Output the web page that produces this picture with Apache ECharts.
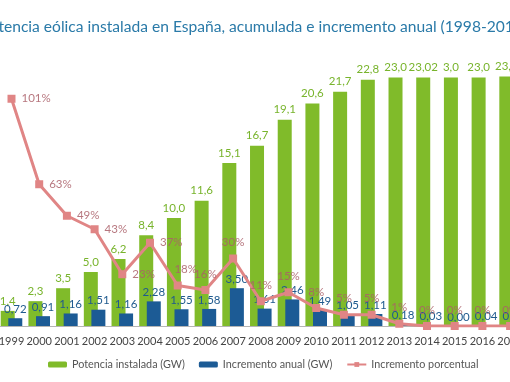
<!DOCTYPE html>
<html><head><meta charset="utf-8">
<script src="https://cdn.jsdelivr.net/npm/echarts@6/dist/echarts.min.js"></script>
<style>html,body{margin:0;padding:0;background:#fff}#c{width:510px;height:382px}</style>
</head><body><div id="c"></div>
<script>
var titleText = 'Potencia eólica instalada en España, acumulada e incremento anual (1998-2017)';
var years = ['1999','2000','2001','2002','2003','2004','2005','2006','2007','2008','2009','2010','2011','2012','2013','2014','2015','2016','2017'];
var potencia = [1.4,2.3,3.5,5.0,6.2,8.4,10.0,11.6,15.1,16.7,19.1,20.6,21.7,22.8,23.0,23.02,23.0,23.0,23.1];
var potenciaLabels = ['1,4','2,3','3,5','5,0','6,2','8,4','10,0','11,6','15,1','16,7','19,1','20,6','21,7','22,8','23,0','23,02','3,0','23,0','23,1'];
var incremento = [0.72,0.91,1.16,1.51,1.16,2.28,1.55,1.58,3.50,1.61,2.46,1.49,1.05,1.11,0.18,0.03,0.00,0.04,0.10];
var porcentaje = [101,63,49,43,23,37,18,16,30,11,15,8,5,5,1,0,0,0,0];
var seriesNames = ['Potencia instalada (GW)','Incremento anual (GW)','Incremento porcentual'];

var FONT = 'Lato';
var titleSize = 15.6;
var cv = document.createElement('canvas').getContext('2d');
cv.font = titleSize + 'px ' + FONT;
var cut = cv.measureText('Pot').width;

var chart = echarts.init(document.getElementById('c'), null, {renderer:'canvas'});
chart.setOption({
  animation: false,
  textStyle: {fontFamily: FONT},
  title: {
    text: titleText, left: -cut - 1, top: 14,
    textStyle: {fontFamily: FONT, fontSize: titleSize, fontWeight: 'normal', color: '#2a7aa8'}
  },
  legend: {
    left: 43, top: 354, width: 500, itemWidth: 19, itemHeight: 6, itemGap: 14,
    textStyle: {fontFamily: FONT, fontSize: 10.8, color: '#555'},
    data: seriesNames
  },
  grid: {left: -2.35, right: -13.95, top: 56, bottom: 56, containLabel: false, outerBoundsMode: 'none'},
  xAxis: {
    type: 'category', data: years,
    axisTick: {show: false},
    axisLine: {lineStyle: {color: '#b5b5b5', width: 1}},
    axisLabel: {color: '#444', fontSize: 11, margin: 10, interval: 0, fontFamily: FONT}
  },
  yAxis: [
    {type: 'value', min: 0, max: 25, show: false, splitLine: {show: false}},
    {type: 'value', min: 0, max: 120, show: false, splitLine: {show: false}}
  ],
  series: [
    {
      name: seriesNames[0], type: 'bar', data: potencia, barWidth: 14, barGap: '-46%',
      itemStyle: {color: '#80bb2a'},
      label: {show: true, position: 'top', distance: 4, color: '#78b42c', fontSize: 11.5, fontFamily: FONT,
        formatter: function(p){ return potenciaLabels[p.dataIndex]; }}
    },
    {
      name: seriesNames[1], type: 'bar', data: incremento, barWidth: 14,
      itemStyle: {color: '#1c5b95'},
      label: {show: true, position: 'top', distance: 3, color: '#1f5a8e', fontSize: 11.5, fontFamily: FONT,
        formatter: function(p){ return p.value.toFixed(2).replace('.', ','); }}
    },
    {
      name: seriesNames[2], type: 'line', yAxisIndex: 1, z: 5,
      data: porcentaje.map(function(v, i){
        return {value: v, label: {position: i < 6 ? 'right' : 'top', offset: i === 6 ? [8, 0] : [0, 0]}};
      }),
      symbol: 'rect', symbolSize: 8,
      lineStyle: {color: '#e08585', width: 3},
      itemStyle: {color: '#e08585'},
      label: {show: true, distance: 6, color: 'rgba(170,95,105,0.85)', fontSize: 11.5, fontFamily: FONT,
        formatter: '{c}%'}
    }
  ]
});
</script></body></html>
